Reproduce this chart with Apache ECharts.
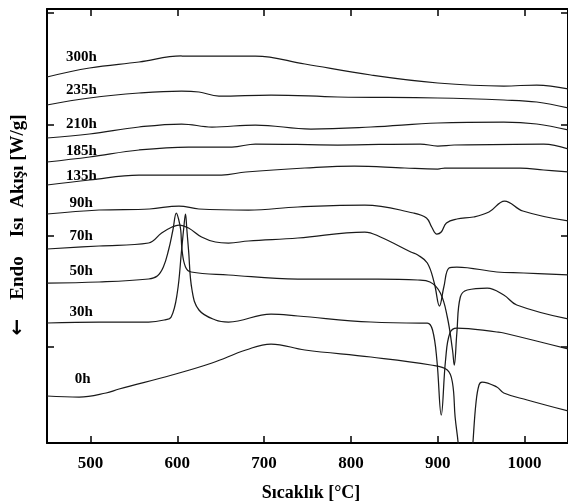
<!DOCTYPE html>
<html>
<head>
<meta charset="utf-8">
<script src="https://cdn.jsdelivr.net/npm/echarts@6/dist/echarts.min.js"></script>
<style>
html, body { margin: 0; padding: 0; background: #fff; }
#main { width: 568px; height: 504px; }
</style>
</head>
<body>
<div id="main"></div>
<script>
// 样品名称 (从上到下)
const sampleNames = ['300h', '235h', '210h', '185h', '135h', '90h', '70h', '50h', '30h', '0h'];
const xTicks = [500, 600, 700, 800, 900, 1000];
const yTicks = [96, 207, 318, 430];

// [sıcaklık °C, ısı akışı (keyfi birim)]
const c300h = [[450,366],[499,375],[556,381],[605,387],[663,387],[690,387],[747,379],[823,368],[900,360],[976,357],[1014,358],[1050,354]];
const c235h = [[450,338],[499,345],[556,350],[605,352],[625,351],[648,347],[708,348],[785,346],[900,345],[976,343],[1014,341],[1050,335]];
const c210h = [[450,305],[499,309],[556,316],[605,319],[640,316],[690,318],[754,314],[823,316],[900,320],[976,321],[1014,319],[1050,313]];
const c185h = [[450,281],[499,286],[556,293],[613,296],[663,296],[690,299],[785,298],[880,299],[900,297],[919,298],[1022,299],[1050,294]];
const c135h = [[450,258],[499,263],[556,268],[651,268],[679,271],[747,275],[804,277],[862,275],[900,274],[908,275],[995,275],[1022,273],[1050,271]];
const c90h = [[450,229],[510,233],[568,234],[602,237],[625,234],[682,233],[739,236],[816,238],[872,230],[887,225],[893,216],[899,209],[904,211],[910,220],[922,224],[941,226],[959,231],[977,242],[998,232],[1050,222]];
const c70h = [[450,194],[510,197],[567,200],[582,210],[594,216],[602,218],[613,215],[628,206],[644,201],[659,200],[682,202],[739,205],[816,211],[834,206],[869,191],[877,188],[888,180],[896,160],[902,137],[907,156],[913,175],[922,176],[968,171],[999,170],[1050,168]];
const c50h = [[450,160],[510,161],[567,164],[577,167],[584,176],[590,193],[595,213],[599,230],[601.5,224],[604,213],[605.5,193],[609.5,176],[616,171],[659,168],[739,164],[831,164],[877,163],[891,161],[903,150],[911,126],[917,93],[919,78],[922,110],[926,146],[934,153],[957,155],[976,148],[991,138],[1050,124]];
const c30h = [[450,120],[510,121],[567,121],[585,123],[593,126],[600,150],[605,193],[607.5,215],[609.5,229],[611,214],[613,193],[617,153],[625,133],[644,123],[659,121],[708,129],[739,127],[823,121],[880,120],[888,120],[894,113],[899,83],[904,28],[909,83],[914,110],[922,115],[968,111],[976,110],[1050,94]];
const c0h = [[450,47],[487,46],[518,50],[533,54],[594,68],[640,80],[679,93],[708,99],[747,93],[823,86],[892,78],[911,73],[917,60],[920,26],[923.5,0],[928,-50],[933,-70],[937,-45],[940.5,0],[944,40],[947.5,58],[951,61],[968,56],[976,50],[1003,43],[1050,32]];

const curves = [c300h, c235h, c210h, c185h, c135h, c90h, c70h, c50h, c30h, c0h];
// etiket konumları
const labelAt = [[472,386],[472,353],[472,319],[472,292],[472,267],[476,240],[476,207],[476,172],[476,131],[482,64]];

const font = '"Liberation Serif", "Times New Roman", serif';
const chart = echarts.init(document.getElementById('main'));

const axisX = {
	type: 'value',
	min: 450,
	max: 1050,
	axisLine: { show: true, onZero: false, lineStyle: { color: '#000', width: 2 } },
	axisTick: { show: true, inside: true, length: 7, customValues: xTicks, lineStyle: { color: '#000', width: 1.5 } },
	splitLine: { show: false },
	axisLabel: { show: false }
};
const axisY = {
	type: 'value',
	min: 0,
	max: 434,
	axisLine: { show: true, onZero: false, lineStyle: { color: '#000', width: 2 } },
	axisTick: { show: true, inside: true, length: 7, customValues: yTicks, lineStyle: { color: '#000', width: 1.5 } },
	splitLine: { show: false },
	axisLabel: { show: false }
};

chart.setOption({
	animation: false,
	grid: { left: 47, right: -4, top: 9, bottom: 61 },
	xAxis: [
		Object.assign({}, axisX, {
			position: 'bottom',
			axisLabel: {
				show: true, customValues: xTicks, margin: 12, color: '#000',
				fontFamily: font, fontWeight: 'bold', fontSize: 17,
				formatter: v => String(v)
			}
		}),
		Object.assign({}, axisX, { position: 'top' })
	],
	yAxis: [
		Object.assign({}, axisY, { position: 'left' }),
		Object.assign({}, axisY, { position: 'right' })
	],
	series: curves.map((d, i) => ({
		name: sampleNames[i],
		type: 'line',
		data: d,
		smooth: 0.4,
		showSymbol: false,
		silent: true,
		clip: true,
		lineStyle: { color: '#1a1a1a', width: 1.25 }
	}))
});

let texts = labelAt.map((p, i) => {
	const px = chart.convertToPixel({ xAxisIndex: 0, yAxisIndex: 0 }, p);
	return {
		type: 'text',
		x: px[0],
		y: px[1],
		style: { text: sampleNames[i], textAlign: 'left', textVerticalAlign: 'middle', fill: '#000', font: 'bold 15px ' + font }
	};
});
texts.push({
	type: 'text', x: 311, y: 493,
	style: { text: 'Sıcaklık [°C]', textAlign: 'center', textVerticalAlign: 'middle', fill: '#000', font: 'bold 18px ' + font }
});
texts.push({
	type: 'text', x: 18, y: 207, rotation: Math.PI / 2,
	style: { text: 'Endo    Isı  Akışı [W/g]', textAlign: 'center', textVerticalAlign: 'middle', fill: '#000', font: 'bold 19px ' + font }
});
texts.push({
	type: 'text', x: 18, y: 327, rotation: Math.PI / 2,
	style: { text: '←', textAlign: 'center', textVerticalAlign: 'middle', fill: '#000', font: 'bold 20px "DejaVu Sans"' }
});
chart.setOption({ graphic: texts });
</script>
</body>
</html>
